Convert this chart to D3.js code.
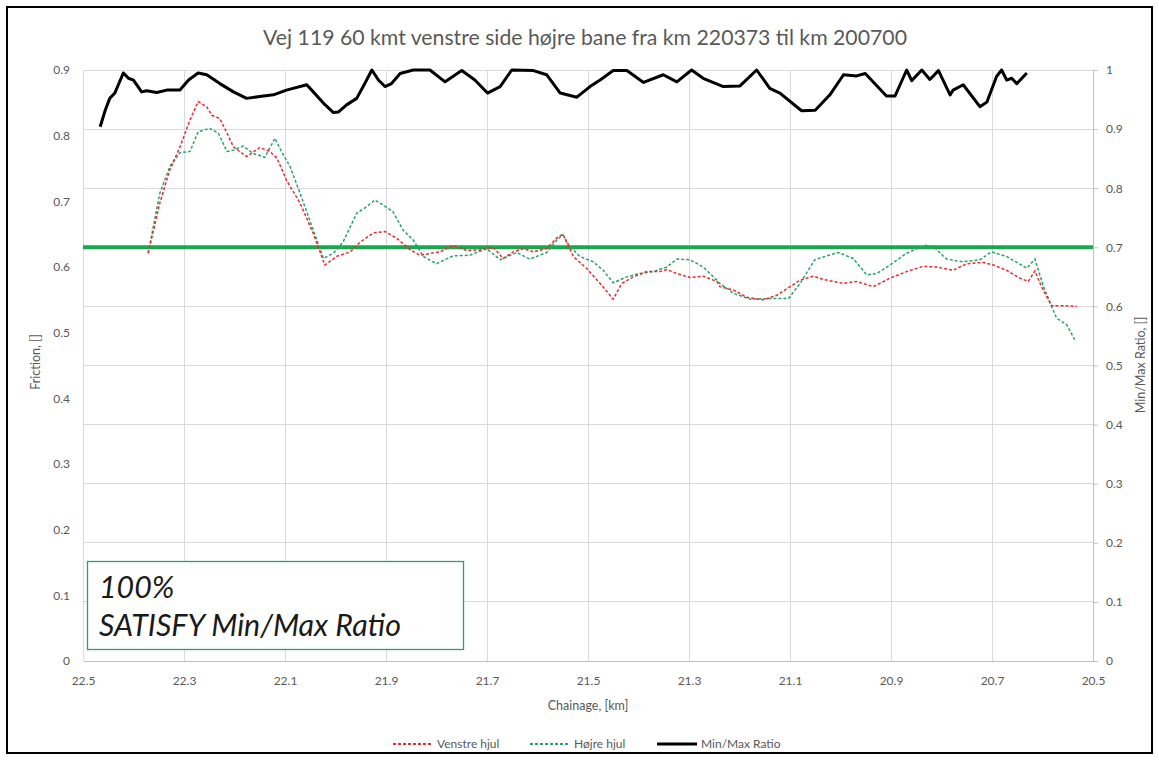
<!DOCTYPE html>
<html><head><meta charset="utf-8">
<script src="https://cdn.jsdelivr.net/npm/d3@7"></script>
<style>
html,body{margin:0;padding:0;background:#fff;}
text{font-family:Lato,"Open Sans",sans-serif;}
</style></head>
<body><svg id="c" width="1159" height="760"></svg>
<script>
const titleText = "Vej 119 60 kmt venstre side højre bane fra km 220373 til km 200700";
const xTicks = [22.5, 22.3, 22.1, 21.9, 21.7, 21.5, 21.3, 21.1, 20.9, 20.7, 20.5];
const leftTicks = [0, 0.1, 0.2, 0.3, 0.4, 0.5, 0.6, 0.7, 0.8, 0.9];
const rightTicks = [0, 0.1, 0.2, 0.3, 0.4, 0.5, 0.6, 0.7, 0.8, 0.9, 1];
const thresholdRatio = 0.7;
const seriesNames = ["Venstre hjul", "Højre hjul", "Min/Max Ratio"];
const annotationLines = ["100%", "SATISFY Min/Max Ratio"];

const venstreKm = [22.371,22.348,22.328,22.308,22.288,22.272,22.255,22.245,22.229,22.215,22.202,22.176,22.150,22.130,22.116,22.097,22.070,22.044,22.021,21.998,21.971,21.951,21.925,21.902,21.879,21.852,21.833,21.793,21.767,21.740,21.714,21.688,21.668,21.648,21.628,21.608,21.582,21.562,21.550,21.536,21.529,21.503,21.476,21.450,21.433,21.410,21.384,21.357,21.344,21.324,21.298,21.272,21.245,21.239,21.212,21.186,21.153,21.126,21.100,21.080,21.054,21.034,20.994,20.968,20.935,20.902,20.869,20.836,20.810,20.777,20.750,20.717,20.697,20.671,20.645,20.628,20.615,20.602,20.582,20.559,20.532];
const venstreVal = [0.621,0.697,0.748,0.783,0.824,0.852,0.844,0.831,0.826,0.804,0.783,0.768,0.782,0.776,0.766,0.732,0.697,0.651,0.603,0.616,0.623,0.638,0.652,0.654,0.644,0.626,0.618,0.623,0.633,0.625,0.626,0.630,0.613,0.623,0.628,0.623,0.628,0.644,0.650,0.628,0.616,0.598,0.575,0.551,0.575,0.585,0.593,0.593,0.596,0.590,0.584,0.586,0.578,0.570,0.565,0.554,0.550,0.557,0.570,0.580,0.586,0.581,0.575,0.578,0.570,0.583,0.593,0.601,0.600,0.595,0.605,0.607,0.603,0.595,0.583,0.578,0.594,0.570,0.541,0.541,0.540];

const hojreKm = [22.371,22.348,22.328,22.308,22.288,22.272,22.249,22.232,22.215,22.202,22.183,22.163,22.140,22.120,22.107,22.090,22.070,22.044,22.024,22.004,21.985,21.958,21.938,21.922,21.905,21.886,21.866,21.846,21.826,21.800,21.767,21.734,21.701,21.674,21.641,21.615,21.582,21.562,21.550,21.536,21.516,21.490,21.470,21.450,21.423,21.397,21.371,21.344,21.324,21.298,21.272,21.245,21.239,21.212,21.179,21.140,21.103,21.080,21.051,21.027,21.004,20.975,20.948,20.928,20.902,20.869,20.833,20.816,20.790,20.757,20.724,20.701,20.671,20.631,20.615,20.598,20.582,20.572,20.552,20.536];
const hojreVal = [0.621,0.712,0.753,0.774,0.776,0.806,0.811,0.804,0.776,0.778,0.784,0.773,0.767,0.796,0.776,0.753,0.712,0.656,0.613,0.621,0.638,0.682,0.692,0.702,0.694,0.684,0.656,0.641,0.616,0.605,0.617,0.618,0.628,0.611,0.622,0.612,0.622,0.641,0.649,0.631,0.616,0.608,0.595,0.576,0.585,0.590,0.593,0.600,0.612,0.611,0.600,0.580,0.575,0.560,0.551,0.552,0.552,0.575,0.611,0.617,0.622,0.613,0.588,0.590,0.603,0.621,0.633,0.631,0.612,0.608,0.611,0.623,0.616,0.598,0.612,0.570,0.540,0.522,0.512,0.489];

const ratioKm = [22.466,22.456,22.447,22.437,22.430,22.420,22.410,22.400,22.384,22.374,22.354,22.334,22.308,22.291,22.272,22.255,22.229,22.202,22.176,22.150,22.123,22.097,22.057,22.044,22.024,22.004,21.994,21.978,21.958,21.942,21.928,21.915,21.902,21.889,21.872,21.846,21.813,21.783,21.750,21.724,21.699,21.674,21.651,21.608,21.582,21.555,21.522,21.496,21.476,21.450,21.423,21.390,21.351,21.324,21.295,21.272,21.232,21.199,21.166,21.140,21.120,21.077,21.050,21.021,20.994,20.968,20.951,20.909,20.892,20.869,20.859,20.839,20.823,20.806,20.783,20.777,20.757,20.724,20.710,20.691,20.681,20.671,20.661,20.651,20.631];
const ratioVal = [0.904,0.932,0.952,0.961,0.975,0.995,0.986,0.983,0.963,0.965,0.962,0.966,0.966,0.983,0.995,0.992,0.977,0.963,0.952,0.955,0.958,0.966,0.975,0.963,0.944,0.928,0.929,0.941,0.952,0.977,1.0,0.983,0.972,0.977,0.994,1.0,1.0,0.980,0.999,0.983,0.961,0.972,1.0,0.999,0.992,0.961,0.954,0.972,0.983,0.999,0.999,0.979,0.992,0.980,1.0,0.986,0.972,0.973,1.0,0.969,0.961,0.931,0.932,0.958,0.992,0.990,0.994,0.956,0.956,1.0,0.982,1.0,0.984,0.999,0.958,0.966,0.975,0.938,0.946,0.989,1.0,0.983,0.986,0.977,0.995];

const W = 1159, H = 760;
const M = {left: 83, right: 1093, top: 70, bottom: 661};
const svg = d3.select("#c");
const textColor = "#595959";
const gridColor = "#d9d9d9";

const x = d3.scaleLinear().domain([22.5, 20.5]).range([M.left, M.right]);
const yL = d3.scaleLinear().domain([0, 0.9]).range([M.bottom, M.top]);
const yR = d3.scaleLinear().domain([0, 1]).range([M.bottom, M.top]);

svg.append("rect").attr("x",0).attr("y",0).attr("width",W).attr("height",H).attr("fill","#fff");
svg.append("rect").attr("x",7).attr("y",7).attr("width",1145).attr("height",746)
  .attr("fill","none").attr("stroke","#000").attr("stroke-width",2);

function fit(sel, target) {
  const n = sel.node();
  const w = n.getComputedTextLength();
  const fs = parseFloat(sel.attr("font-size"));
  sel.attr("font-size", (fs * target / w).toFixed(2));
}

// title
const t = svg.append("text").attr("x", 585).attr("y", 45).attr("text-anchor","middle")
  .attr("font-size", 18).attr("fill", textColor).text(titleText);
fit(t, 644);

// gridlines horizontal (right axis ticks)
svg.append("g").selectAll("line").data(rightTicks.filter(d => d > 0)).join("line")
  .attr("x1", M.left).attr("x2", M.right).attr("y1", d => yR(d)).attr("y2", d => yR(d))
  .attr("stroke", gridColor).attr("stroke-width", 1).attr("shape-rendering","crispEdges");
// gridlines vertical
svg.append("g").selectAll("line").data(xTicks.filter(d => d !== 20.5)).join("line")
  .attr("x1", d => x(d)).attr("x2", d => x(d)).attr("y1", M.top).attr("y2", M.bottom)
  .attr("stroke", gridColor).attr("stroke-width", 1).attr("shape-rendering","crispEdges");

// x axis
const xAxis = svg.append("g").attr("transform", `translate(0,${M.bottom})`)
  .call(d3.axisBottom(x).tickValues(xTicks).tickFormat(d3.format(".1f")).tickSize(0).tickPadding(15));
xAxis.select(".domain").attr("stroke", "#bfbfbf").attr("shape-rendering","crispEdges");
xAxis.selectAll("text").attr("fill", textColor).attr("font-size", 12).attr("font-family","Lato");

// left axis
const lAxis = svg.append("g").attr("transform", `translate(${M.left},0)`)
  .call(d3.axisLeft(yL).tickValues(leftTicks).tickFormat(d => d === 0 ? "0" : d3.format(".1f")(d)).tickSize(0).tickPadding(13));
lAxis.select(".domain").remove();
lAxis.selectAll("text").attr("fill", textColor).attr("font-size", 12).attr("font-family","Lato");

// right axis
const rAxis = svg.append("g").attr("transform", `translate(${M.right},0)`)
  .call(d3.axisRight(yR).tickValues(rightTicks).tickFormat(d => (d === 0 || d === 1) ? String(d) : d3.format(".1f")(d)).tickSize(5).tickPadding(8));
rAxis.select(".domain").attr("stroke", "#bfbfbf").attr("shape-rendering","crispEdges");
rAxis.selectAll(".tick line").attr("stroke", "#bfbfbf");
rAxis.selectAll("text").attr("fill", textColor).attr("font-size", 12).attr("font-family","Lato");

// axis titles
svg.append("text").attr("x", 588).attr("y", 710).attr("text-anchor","middle")
  .attr("font-size", 12.5).attr("fill", textColor).text("Chainage, [km]");
svg.append("text").attr("transform","translate(40,362) rotate(-90)").attr("text-anchor","middle")
  .attr("font-size", 12.5).attr("fill", textColor).text("Friction, []");
svg.append("text").attr("transform","translate(1145,365) rotate(-90)").attr("text-anchor","middle")
  .attr("font-size", 12.5).attr("fill", textColor).text("Min/Max Ratio, []");

// threshold
svg.append("line").attr("x1", x(22.5)).attr("x2", x(20.5)).attr("y1", yR(thresholdRatio)).attr("y2", yR(thresholdRatio))
  .attr("stroke", "#1aa84f").attr("stroke-width", 4);

// series
const lineL = d3.line().x(d => x(d[0])).y(d => yL(d[1]));
const lineR = d3.line().x(d => x(d[0])).y(d => yR(d[1]));
const redC = "#f0282d", greenC = "#27a468";
svg.append("path").datum(hojreKm.map((k,i)=>[k,hojreVal[i]])).attr("d", lineL)
  .attr("fill","none").attr("stroke", greenC).attr("stroke-width",1.5).attr("stroke-dasharray","3,2");
svg.append("path").datum(venstreKm.map((k,i)=>[k,venstreVal[i]])).attr("d", lineL)
  .attr("fill","none").attr("stroke", redC).attr("stroke-width",1.5).attr("stroke-dasharray","3,2");
svg.append("path").datum(ratioKm.map((k,i)=>[k,ratioVal[i]])).attr("d", lineR)
  .attr("fill","none").attr("stroke","#000").attr("stroke-width",3).attr("stroke-linejoin","round");

// annotation box
svg.append("rect").attr("x", 87.5).attr("y", 561.5).attr("width", 376).attr("height", 88)
  .attr("fill","#fff").attr("stroke","#23a46a").attr("stroke-width",1.3);
const a1 = svg.append("text").attr("x", 99).attr("y", 598).attr("font-size", 24).attr("font-style","italic")
  .attr("fill","#1a1a1a").text(annotationLines[0]);
const a2 = svg.append("text").attr("x", 99).attr("y", 636).attr("font-size", 24).attr("font-style","italic")
  .attr("fill","#1a1a1a").text(annotationLines[1]);
fit(a2, 302);
a1.attr("font-size", a2.attr("font-size"));

// legend
const lg = svg.append("g");
const legY = 744;
const items = [
  {name: seriesNames[0], color: redC, dash: "3,2", w: 1.8, x0: 393},
  {name: seriesNames[1], color: greenC, dash: "3,2", w: 1.8, x0: 530},
  {name: seriesNames[2], color: "#000", dash: null, w: 3, x0: 657}
];
items.forEach(it => {
  lg.append("line").attr("x1", it.x0).attr("x2", it.x0 + 40).attr("y1", legY).attr("y2", legY)
    .attr("stroke", it.color).attr("stroke-width", it.w).attr("stroke-dasharray", it.dash);
  lg.append("text").attr("x", it.x0 + 44).attr("y", legY + 4).attr("font-size", 12)
    .attr("fill", textColor).text(it.name);
});
</script>
</body></html>
